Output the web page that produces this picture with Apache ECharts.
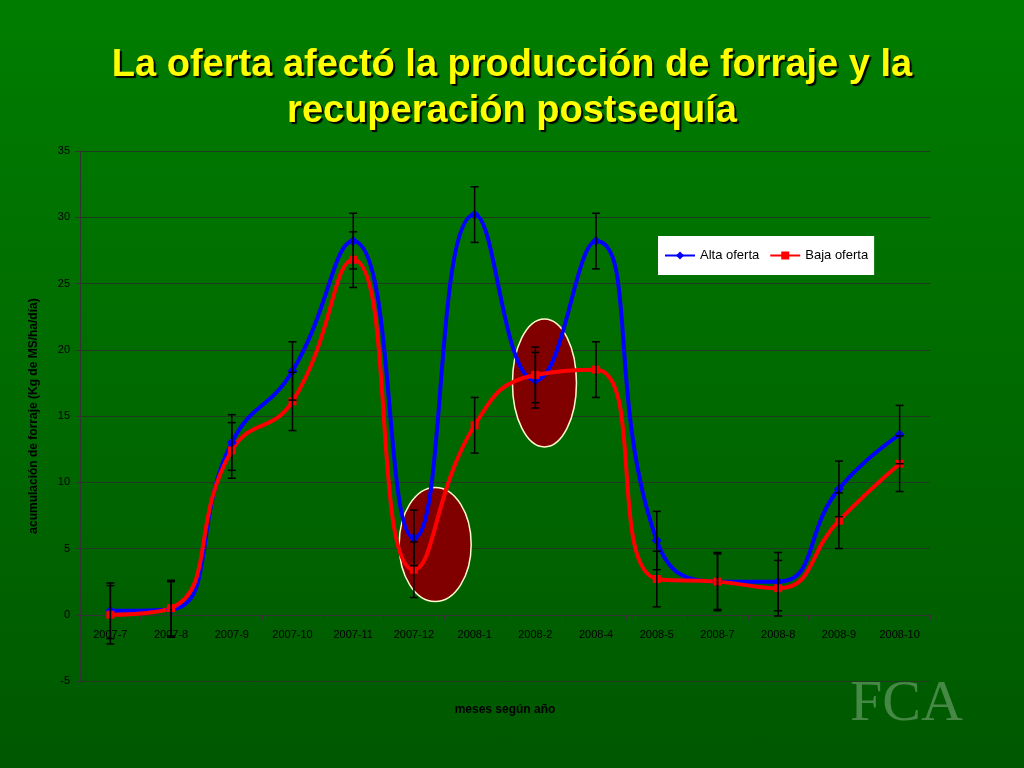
<!DOCTYPE html>
<html><head><meta charset="utf-8">
<script src="https://cdn.jsdelivr.net/npm/echarts@6/dist/echarts.min.js"></script>
<style>html,body{margin:0;padding:0;}#c{width:1024px;height:768px;background:linear-gradient(#007d00,#005800);}</style>
</head><body><div id="c"></div>
<script>
const categories=['2007-7','2007-8','2007-9','2007-10','2007-11','2007-12','2008-1','2008-2','2008-4','2008-5','2008-7','2008-8','2008-9','2008-10'];
const alta=[0.3,0.4,13,18.4,28.2,5.8,30.2,17.7,28.2,5.6,2.5,2.5,9.5,13.6];
const altaErr=[2.1,2.1,2.1,2.2,2.1,2.1,2.1,2.1,2.1,2.2,2.2,2.2,2.1,2.2];
const baja=[0,0.5,12.4,16.1,26.8,3.4,14.3,18.1,18.5,2.7,2.5,2.0,7.1,11.4];
const bajaErr=[2.2,2.1,2.1,2.2,2.1,2.1,2.1,2.1,2.1,2.1,2.1,2.1,2.1,2.1];
function errSeries(vals,errs){
  return {type:'custom',silent:true,z:4,data:vals.map((v,i)=>[i,v-errs[i],v+errs[i]]),
    renderItem:(p,api)=>{const lo=api.coord([api.value(0),api.value(1)]),hi=api.coord([api.value(0),api.value(2)]);
      const s={stroke:'#000',lineWidth:1.5};
      return {type:'group',children:[
        {type:'line',shape:{x1:lo[0],y1:lo[1],x2:hi[0],y2:hi[1]},style:s},
        {type:'line',shape:{x1:lo[0]-4,y1:lo[1],x2:lo[0]+4,y2:lo[1]},style:s},
        {type:'line',shape:{x1:hi[0]-4,y1:hi[1],x2:hi[0]+4,y2:hi[1]},style:s}]};}};
}
const chart=echarts.init(document.getElementById('c'));
chart.setOption({
  animation:false,
  title:{text:'La oferta afectó la producción de forraje y la\nrecuperación postsequía',left:'center',top:38,
    textStyle:{color:'#ffff00',fontSize:38,fontWeight:'bold',fontFamily:'Liberation Sans',lineHeight:46,textShadowColor:'#000',textShadowOffsetX:2,textShadowOffsetY:2,textShadowBlur:1}},
  grid:{left:80,right:94,top:151,bottom:87,containLabel:false,outerBoundsMode:'none'},
  legend:{top:236,left:658,backgroundColor:'#fff',borderRadius:0,padding:[13,6],itemWidth:30,itemHeight:10,itemGap:10,
    textStyle:{color:'#000',fontSize:13,fontFamily:'Liberation Sans'},data:['Alta oferta','Baja oferta']},
  xAxis:{type:'category',data:categories,name:'meses según año',nameLocation:'middle',nameGap:89,offset:-66,
    nameTextStyle:{color:'#000',fontSize:12,fontWeight:'bold',fontFamily:'Liberation Sans'},
    axisLine:{onZero:false,lineStyle:{color:'#333'}},axisTick:{show:true,lineStyle:{color:'#333'}},
    axisLabel:{color:'#000',fontSize:11,fontFamily:'Liberation Sans',margin:14}},
  yAxis:{type:'value',min:-5,max:35,interval:5,name:'acumulación de forraje (Kg de MS/ha/día)',nameLocation:'middle',nameGap:40,
    nameTextStyle:{color:'#000',fontSize:12,fontWeight:'bold',fontFamily:'Liberation Sans'},
    axisLine:{show:true,lineStyle:{color:'#333'}},axisTick:{show:true},
    axisLabel:{color:'#000',fontSize:11,fontFamily:'Liberation Sans',margin:10},
    splitLine:{lineStyle:{color:'#1e3b1e',width:1}}},
  series:[
    {name:'Alta oferta',type:'line',data:alta,smooth:0.5,z:3,symbol:'diamond',symbolSize:10,itemStyle:{color:'#0000ff'},lineStyle:{color:'#0000ff',width:4}},
    {name:'Baja oferta',type:'line',data:baja,smooth:0.5,z:3,symbol:'rect',symbolSize:8,itemStyle:{color:'#ff0000'},lineStyle:{color:'#ff0000',width:4}},
    errSeries(alta,altaErr),errSeries(baja,bajaErr)
  ]
});
function px(i,v){const a=chart.convertToPixel({xAxisIndex:0,yAxisIndex:0},[Math.floor(i),v]);
  const b=chart.convertToPixel({xAxisIndex:0,yAxisIndex:0},[Math.floor(i)+1,v]);const f=i-Math.floor(i);return [a[0]+(b[0]-a[0])*f,a[1]];}
const e1=px(5.35,5.3),e2=px(7.15,17.5);
chart.setOption({graphic:[
  {type:'ellipse',z:1,zlevel:0,shape:{cx:e1[0],cy:e1[1],rx:36,ry:57},style:{fill:'#800000',stroke:'#fffbd0',lineWidth:1.5}},
  {type:'ellipse',z:1,shape:{cx:e2[0],cy:e2[1],rx:32,ry:64},style:{fill:'#800000',stroke:'#fffbd0',lineWidth:1.5}},
  {type:'text',left:850,top:676,style:{text:'FCA',fill:'rgba(200,220,200,0.35)',font:'58px Liberation Serif'}}
]});
</script></body></html>
